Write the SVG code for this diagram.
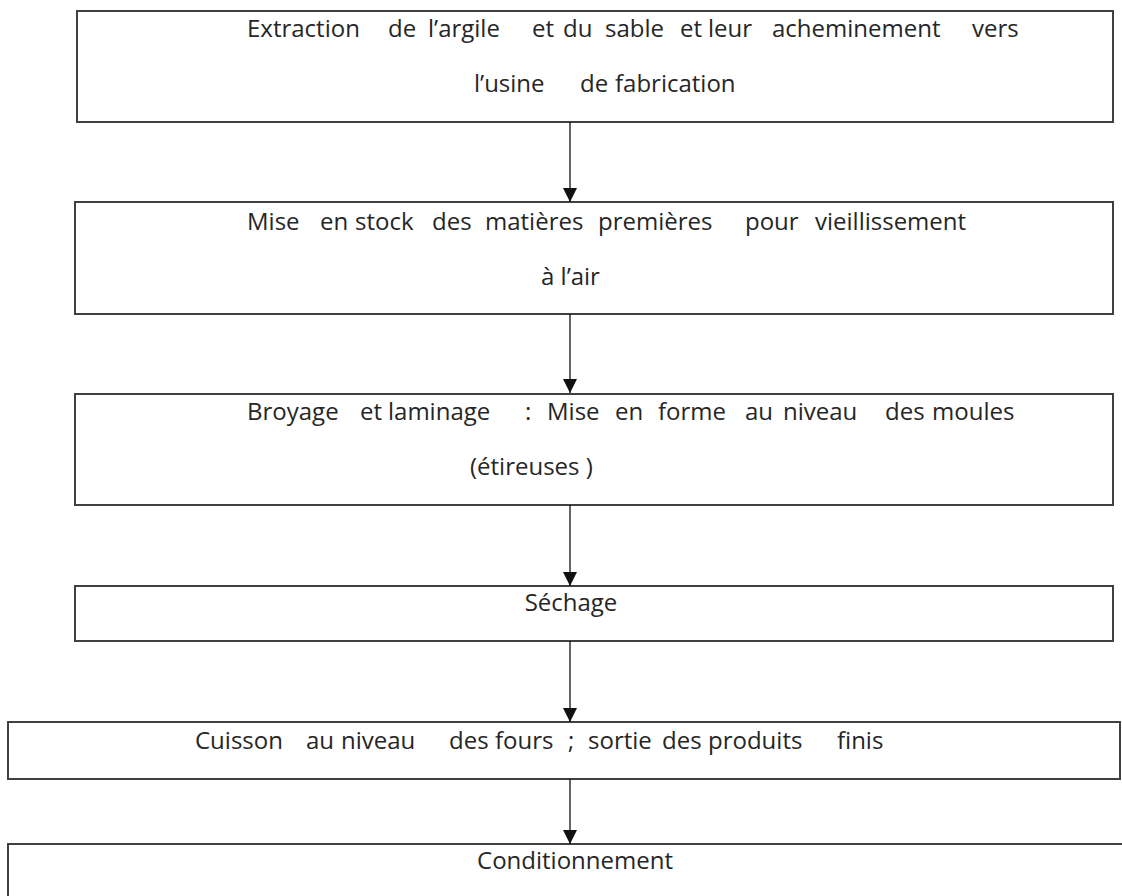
<svg xmlns="http://www.w3.org/2000/svg" width="1122" height="896" viewBox="0 0 1122 896">
  <style>
    .box { fill: #ffffff; stroke: #404040; stroke-width: 2; }
    .lbl { font-family: "Open Sans", "Noto Sans", "Liberation Sans", sans-serif; font-size: 24px; fill: #262626; }
    .mid { text-anchor: middle; }
    .link { fill: none; stroke: #111111; stroke-width: 1.3; marker-end: url(#head); }
  </style>
  <defs>
    <marker id="head" markerUnits="userSpaceOnUse" markerWidth="14" markerHeight="14" viewBox="0 0 14 14" refX="14" refY="7" orient="auto">
      <path d="M0,0 L14,7 L0,14 Z" fill="#111111"/>
    </marker>
  </defs>
  <rect width="1122" height="896" fill="#ffffff"/>

  <!-- process steps -->
  <g id="step-extraction">
    <rect class="box" x="77" y="11" width="1036" height="111"/>
    <text class="lbl" y="37"><tspan x="247">Extraction</tspan><tspan x="388">de</tspan><tspan x="428">l’argile</tspan><tspan x="532">et</tspan><tspan x="563">du</tspan><tspan x="605">sable</tspan><tspan x="680">et</tspan><tspan x="708">leur</tspan><tspan x="772">acheminement</tspan><tspan x="972">vers</tspan></text>
    <text class="lbl" y="92"><tspan x="474">l’usine</tspan><tspan x="580">de</tspan><tspan x="615">fabrication</tspan></text>
  </g>
  <g id="step-stockage">
    <rect class="box" x="75" y="202" width="1038" height="112"/>
    <text class="lbl" y="230"><tspan x="247">Mise</tspan><tspan x="320">en</tspan><tspan x="355">stock</tspan><tspan x="432">des</tspan><tspan x="485">matières</tspan><tspan x="598">premières</tspan><tspan x="745">pour</tspan><tspan x="815">vieillissement</tspan></text>
    <text class="lbl" x="541" y="285">à l’air</text>
  </g>
  <g id="step-broyage">
    <rect class="box" x="75" y="394" width="1038" height="111"/>
    <text class="lbl" y="420"><tspan x="247">Broyage</tspan><tspan x="360">et</tspan><tspan x="388">laminage</tspan><tspan x="525">:</tspan><tspan x="547">Mise</tspan><tspan x="615">en</tspan><tspan x="658">forme</tspan><tspan x="745">au</tspan><tspan x="783">niveau</tspan><tspan x="885">des</tspan><tspan x="932">moules</tspan></text>
    <text class="lbl" x="470" y="475">(étireuses )</text>
  </g>
  <g id="step-sechage">
    <rect class="box" x="75" y="586" width="1038" height="55"/>
    <text class="lbl mid" x="571" y="611">Séchage</text>
  </g>
  <g id="step-cuisson">
    <rect class="box" x="8" y="722" width="1112" height="57"/>
    <text class="lbl" y="749"><tspan x="195">Cuisson</tspan><tspan x="306">au</tspan><tspan x="341">niveau</tspan><tspan x="449">des</tspan><tspan x="495">fours</tspan><tspan x="568">;</tspan><tspan x="588">sortie</tspan><tspan x="662">des</tspan><tspan x="708">produits</tspan><tspan x="837">finis</tspan></text>
  </g>
  <g id="step-conditionnement">
    <rect class="box" x="8" y="844" width="1130" height="80"/>
    <text class="lbl mid" x="575" y="869">Conditionnement</text>
  </g>

  <!-- connectors -->
  <g id="connectors">
    <line class="link" x1="570" y1="122" x2="570" y2="202"/>
    <line class="link" x1="570" y1="314" x2="570" y2="393"/>
    <line class="link" x1="570" y1="505" x2="570" y2="586"/>
    <line class="link" x1="570" y1="641" x2="570" y2="722"/>
    <line class="link" x1="570" y1="779" x2="570" y2="844"/>
  </g>
</svg>
